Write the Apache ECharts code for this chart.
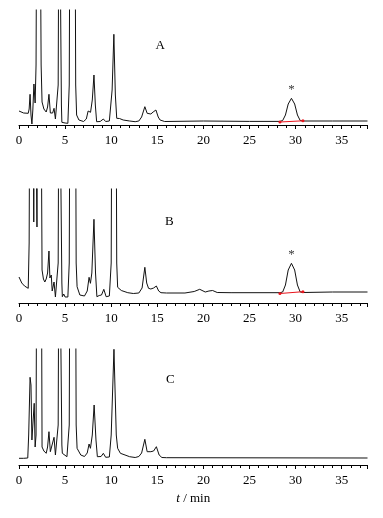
<!DOCTYPE html>
<html><head><meta charset="utf-8">
<script src="https://cdn.jsdelivr.net/npm/echarts@6/dist/echarts.min.js"></script>
<style>html,body{margin:0;padding:0;background:#fff}#c{width:383px;height:518px}</style>
</head><body><div id="c"></div>
<script>
// Retention time ticks (min)
const xTicks = [0, 5, 10, 15, 20, 25, 30, 35];
const panelLabels = ["A", "B", "C"];
// Chromatogram A: [t (min), response]
const traceA = [[0,14],[0.5,12],[1.0,11.7],[1.1,16],[1.2,30.7],[1.3,10],[1.4,1],[1.5,15],[1.62,41],[1.75,22],[1.85,60],[1.95,300],[2.1,300],[2.25,300],[2.4,60],[2.5,23],[2.7,16],[2.95,13],[3.1,18],[3.25,30.7],[3.4,12],[3.5,10],[3.65,12],[3.8,16.7],[3.95,6],[4.1,4],[4.25,40],[4.35,300],[4.5,300],[4.6,20],[4.65,2.7],[4.8,4],[5.0,2],[5.3,1.7],[5.45,40],[5.55,300],[6.05,300],[6.15,40],[6.25,10],[6.5,5],[7.0,3.5],[7.3,6],[7.5,14],[7.76,12.7],[7.95,25],[8.13,50],[8.28,20],[8.42,3.3],[8.8,3.5],[9.15,6],[9.4,3.5],[9.8,4],[9.95,5],[10.1,35],[10.29,90.7],[10.45,30],[10.6,6.7],[10.9,6.5],[11.3,5],[12.0,4],[12.6,3.3],[13.0,4],[13.3,8],[13.65,18.3],[13.9,11.7],[14.1,12.5],[14.3,11],[14.55,13],[14.85,15],[15.1,8],[15.3,5],[15.8,3.5],[20,4],[25,3.6],[28.3,3.6],[28.6,4.5],[28.9,10],[29.2,21],[29.55,26.7],[29.9,21],[30.2,10],[30.5,4.5],[30.8,4],[34,4],[37.8,4]];
// Chromatogram B
const traceB = [[0,26],[0.3,20],[0.6,17],[1.0,14.7],[1.1,60],[1.2,300],[1.5,300],[1.6,81],[1.7,300],[1.85,300],[1.95,76],[2.05,300],[2.35,300],[2.5,33],[2.65,24],[2.8,21],[2.95,24],[3.1,30],[3.25,52],[3.35,25],[3.5,28],[3.6,12],[3.8,21],[3.95,6],[4.1,4.7],[4.25,40],[4.35,300],[4.55,300],[4.65,20],[4.7,6.3],[4.85,9],[5.0,6],[5.3,6],[5.45,40],[5.55,300],[6.1,300],[6.2,40],[6.3,16.3],[6.6,8],[7.1,7],[7.4,12],[7.6,25.7],[7.75,19.7],[7.9,30],[8.13,83.7],[8.3,30],[8.45,6.3],[8.7,7.5],[8.95,8],[9.2,13.7],[9.45,6.3],[9.8,7],[10.0,40],[10.1,300],[10.5,300],[10.6,40],[10.7,15.7],[11.1,12.5],[11.8,10.3],[12.4,9.5],[12.6,8.5],[13.0,10],[13.35,15],[13.65,35.7],[13.85,20],[14.05,14.7],[14.3,14],[14.6,15],[14.9,17],[15.15,12],[15.4,10.3],[16,10],[18,10],[19,11.5],[19.6,13.7],[20.2,11],[20.6,12],[21,12.5],[21.5,10.5],[23,10.3],[28.3,10.3],[28.6,11],[28.9,18],[29.2,33],[29.55,39.7],[29.9,33],[30.2,18],[30.5,11],[30.8,10.5],[34,11],[37.8,11]];
// Chromatogram C
const traceC = [[0,6.7],[0.5,6.7],[0.95,7],[1.05,30],[1.2,87.7],[1.3,80],[1.4,25],[1.5,40],[1.65,61.7],[1.75,18],[1.85,30],[1.95,300],[2.4,300],[2.5,18],[2.7,14],[2.95,11.7],[3.1,18],[3.25,33.3],[3.4,13.3],[3.6,15],[3.8,27.7],[3.95,10],[4.1,10],[4.25,40],[4.35,300],[4.55,300],[4.65,20],[4.7,11.7],[4.85,10],[5.2,8.3],[5.4,10],[5.45,40],[5.55,300],[6.1,300],[6.2,40],[6.3,16.7],[6.7,10],[7.1,8.5],[7.4,12],[7.6,21],[7.75,16.7],[7.95,30],[8.15,60],[8.35,25],[8.5,8.3],[8.9,8.5],[9.15,11.7],[9.4,7.7],[9.8,8],[10.0,30],[10.3,115.7],[10.55,30],[10.7,16.7],[11.0,11.7],[12,8.3],[12.6,7.5],[13.0,8.5],[13.3,12],[13.65,25.7],[13.9,13.3],[14.1,15],[14.3,13.3],[14.6,14],[14.9,18.3],[15.2,10],[15.5,7.5],[16,7.3],[37.8,7]];
// Integration baselines of the marked peak (*)
const integA = [[28.3,3],[30.8,4.2]];
const integB = [[28.3,9.5],[30.8,11.3]];
// Marked peak apex positions (t, response) for the asterisk
const starA = [29.55, 26.7];
const starB = [29.55, 39.7];

const chart = echarts.init(document.getElementById('c'), null, {renderer:'canvas'});
const grids = [
  {left:19, right:15.5, top:10, height:115},
  {left:19, right:15.5, top:189, height:114},
  {left:19, right:15.5, top:349, height:116}
];
const yMax = [115, 114, 116];
const font = 'Liberation Serif';
const xAxes = grids.map((g,i)=>({
  type:'value', gridIndex:i, min:0, max:37.8, interval:5,
  axisLine:{show:true, lineStyle:{color:'#000', width:1}},
  axisTick:{show:true, length:4, lineStyle:{color:'#000'}},
  minorTick:{show:true, splitNumber:5, length:3, lineStyle:{color:'#000'}},
  splitLine:{show:false},
  axisLabel:{color:'#000', fontFamily:font, fontSize:13, margin:9, showMaxLabel:false,
    formatter:v=> xTicks.includes(v) ? String(v) : ''},
  name: i===2 ? '{i|t} / min' : '',
  nameLocation:'middle', nameGap:27,
  nameTextStyle:{color:'#000', fontFamily:font, fontSize:13, rich:{i:{fontStyle:'italic', fontFamily:font, fontSize:13, color:'#000'}}}
}));
const yAxes = grids.map((g,i)=>({
  type:'value', gridIndex:i, min:0, max:yMax[i], show:false
}));
const lineStyle = {color:'#111', width:1};
const mk = (data,i)=>({type:'line', xAxisIndex:i, yAxisIndex:i, data, showSymbol:false, symbol:'none', clip:true, lineStyle, animation:false, silent:true});
const red = (data,i)=>({type:'line', xAxisIndex:i, yAxisIndex:i, data, symbol:'circle', symbolSize:3, itemStyle:{color:'#e8141c'}, lineStyle:{color:'#e8141c', width:1}, animation:false, silent:true, z:3});
const star = (p,i)=>({type:'scatter', xAxisIndex:i, yAxisIndex:i, data:[p], symbolSize:0,
  label:{show:true, position:'top', distance:2, formatter:'*', color:'#000', fontFamily:font, fontSize:13}, animation:false, silent:true});
const panelPos = [[19+9.23*15.3, 10+36], [19+9.23*16.3, 189+33], [19+9.23*16.4, 349+31]];
chart.setOption({
  backgroundColor:'#fff',
  grid:grids,
  xAxis:xAxes,
  yAxis:yAxes,
  series:[mk(traceA,0), mk(traceB,1), mk(traceC,2), red(integA,0), red(integB,1), star(starA,0), star(starB,1)],
  graphic: panelLabels.map((t,i)=>({type:'text', x:panelPos[i][0], y:panelPos[i][1],
    style:{text:t, fill:'#000', font:'13px "Liberation Serif"', textAlign:'center', textVerticalAlign:'middle'}}))
});
</script></body></html>
